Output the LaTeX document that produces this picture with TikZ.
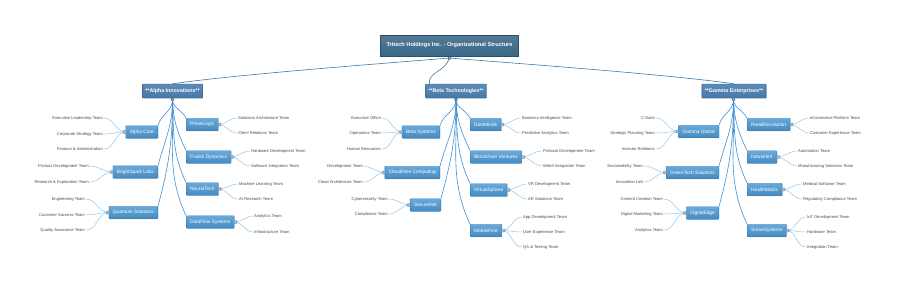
\documentclass[tikz,border=0pt]{standalone}
\usepackage{fontspec}
\setmainfont{Liberation Sans}
\usetikzlibrary{shadows}
\definecolor{Harbor}{HTML}{3F6C8D}
\definecolor{HarborDark}{HTML}{2B506B}
\definecolor{Slate}{HTML}{4A7FB0}
\definecolor{SlateDark}{HTML}{2E5B85}
\definecolor{Sky}{HTML}{4D9AD5}
\definecolor{SkyDark}{HTML}{2D78B5}
\definecolor{Trunk}{HTML}{3E78A8}
\definecolor{Wire}{HTML}{3B90D9}
\definecolor{Twig}{HTML}{92C8EE}
\definecolor{Ink}{HTML}{4A4A4A}

\begin{document}
\begin{tikzpicture}[x=1pt,y=-1pt, every node/.style={align=center},
root/.style={draw=HarborDark,top color=Harbor!90!white,bottom color=Harbor!95!black,text=white,font=\fontsize{5.6}{6.5}\selectfont\bfseries,minimum height=21pt,inner xsep=6pt,drop shadow={opacity=0.25,shadow xshift=0.6pt,shadow yshift=-0.6pt}},
corp/.style={draw=SlateDark,top color=Slate!90!white,bottom color=Slate!95!black,text=white,font=\fontsize{5.3}{6}\selectfont\bfseries,minimum height=14pt,inner xsep=3pt,rounded corners=0.6pt,drop shadow={opacity=0.25,shadow xshift=0.6pt,shadow yshift=-0.6pt}},
unit/.style={draw=SkyDark,top color=Sky!85!white,bottom color=Sky!90!black,text=white,font=\fontsize{4.8}{6}\selectfont,minimum height=12.5pt,inner xsep=4pt,rounded corners=0.6pt,drop shadow={opacity=0.2,shadow xshift=0.5pt,shadow yshift=-0.5pt}},
team/.style={text=Ink,font=\fontsize{4.1}{5}\selectfont,inner sep=1pt},
trunk/.style={draw=Trunk,line width=0.6pt},
branch/.style={draw=Wire,line width=0.6pt},
leaf/.style={draw=Twig,line width=0.5pt},
knob/.style={circle,draw=HarborDark,fill=Sky!40!white,minimum size=3.2pt,inner sep=0pt,line width=0.5pt},
stub/.style={draw=SlateDark!70,fill=Sky!30!gray!60,minimum size=3pt,inner sep=0pt,rounded corners=0.4pt,line width=0.4pt}]
\fill[white] (0,0) rectangle (900,287);
\useasboundingbox (0,0) rectangle (900,287);

% top of the chart
\node[root] (top) at (449.5,45.5) {Tritech Holdings Inc. - Organizational Structure};
\node[corp] (alpha) at (172.5,91) {**Alpha Innovations**};
\node[corp] (beta) at (456,91) {**Beta Technologies**};
\node[corp] (gamma) at (734,91) {**Gamma Enterprises**};
\coordinate (topk) at (449.5,58);
\coordinate (alphak) at (172.5,99.5);
\coordinate (betak) at (456,99.5);
\coordinate (gammak) at (733.5,99.5);
\draw[trunk] (topk) .. controls (390,63) and (240,74) .. (alpha.north);
\draw[trunk] (topk) .. controls (445,72) and (428,72) .. ([xshift=4pt]beta.north west);
\draw[trunk] (topk) .. controls (510,63) and (665,74) .. (gamma.north);

% Alpha Innovations
\node[unit,anchor=east] (acore) at (158,132) {Alpha Core};
\node[unit,anchor=east] (bspark) at (158,172) {BrightSpark Labs};
\node[unit,anchor=east] (quantum) at (158,212.5) {Quantum Solutions};
\node[unit,anchor=west] (prime) at (186,124.5) {PrimeLogic};
\node[unit,anchor=west] (fusion) at (186,157) {Fusion Dynamics};
\node[unit,anchor=west] (neural) at (186,189) {NeuralTech};
\node[unit,anchor=west] (dflow) at (186,222) {DataFlow Systems};
\foreach \u in {acore,bspark,quantum} \draw[branch] (alphak) to[out=-90,in=75] (\u.north east);
\foreach \u in {prime,fusion,neural,dflow} \draw[branch] (alphak) to[out=-88,in=115] (\u.north west);
\foreach \n/\y/\t in {1/118/Executive Leadership Team,2/134/Corporate Strategy Team,3/149/Finance \& Administration}{
  \node[team,anchor=east] (acore-\n) at (104,\y) {\t};
  \draw[leaf] (acore.west) to[out=180,in=0] (acore-\n.east);}
\foreach \n/\y/\t in {1/166/Product Development Team,2/182/Research \& Exploration Team}{
  \node[team,anchor=east] (bspark-\n) at (90,\y) {\t};
  \draw[leaf] (bspark.west) to[out=180,in=0] (bspark-\n.east);}
\foreach \n/\y/\t in {1/199/Engineering Team,2/215/Customer Success Team,3/230/Quality Assurance Team}{
  \node[team,anchor=east] (quantum-\n) at (86,\y) {\t};
  \draw[leaf] (quantum.west) to[out=180,in=0] (quantum-\n.east);}
\foreach \n/\y/\t in {1/118/Solutions Architecture Team,2/133/Client Relations Team}{
  \node[team,anchor=west] (prime-\n) at (237,\y) {\t};
  \draw[leaf] (prime.east) to[out=0,in=180] (prime-\n.west);}
\foreach \n/\y/\t in {1/151/Hardware Development Team,2/166/Software Integration Team}{
  \node[team,anchor=west] (fusion-\n) at (250,\y) {\t};
  \draw[leaf] (fusion.east) to[out=0,in=180] (fusion-\n.west);}
\foreach \n/\y/\t in {1/184/Machine Learning Team,2/199/AI Research Team}{
  \node[team,anchor=west] (neural-\n) at (238,\y) {\t};
  \draw[leaf] (neural.east) to[out=0,in=180] (neural-\n.west);}
\foreach \n/\y/\t in {1/216/Analytics Team,2/232/Infrastructure Team}{
  \node[team,anchor=west] (dflow-\n) at (253,\y) {\t};
  \draw[leaf] (dflow.east) to[out=0,in=180] (dflow-\n.west);}

% Beta Technologies
\node[unit,anchor=east] (bsys) at (440,132) {Beta Systems};
\node[unit,anchor=east] (cloud) at (440,172.5) {CloudNine Computing};
\node[unit,anchor=east] (secure) at (441,205) {SecureNet};
\node[unit,anchor=west] (dminds) at (470,124.5) {DataMinds};
\node[unit,anchor=west] (chain) at (470,157) {Blockchain Ventures};
\node[unit,anchor=west] (vsphere) at (470,190) {VirtualSphere};
\node[unit,anchor=west] (mobile) at (470,230.5) {MobileFirst};
\foreach \u in {bsys,cloud,secure} \draw[branch] (betak) to[out=-90,in=75] (\u.north east);
\foreach \u in {dminds,chain,vsphere,mobile} \draw[branch] (betak) to[out=-88,in=115] (\u.north west);
\foreach \n/\y/\t in {1/118/Executive Office,2/133/Operations Team,3/149/Human Resources}{
  \node[team,anchor=east] (bsys-\n) at (382,\y) {\t};
  \draw[leaf] (bsys.west) to[out=180,in=0] (bsys-\n.east);}
\foreach \n/\y/\t in {1/166.5/Development Team,2/182/Cloud Architecture Team}{
  \node[team,anchor=east] (cloud-\n) at (364,\y) {\t};
  \draw[leaf] (cloud.west) to[out=180,in=0] (cloud-\n.east);}
\foreach \n/\y/\t in {1/199/Cybersecurity Team,2/214/Compliance Team}{
  \node[team,anchor=east] (secure-\n) at (389,\y) {\t};
  \draw[leaf] (secure.west) to[out=180,in=0] (secure-\n.east);}
\foreach \n/\y/\t in {1/118/Business Intelligence Team,2/133/Predictive Analytics Team}{
  \node[team,anchor=west] (dminds-\n) at (521,\y) {\t};
  \draw[leaf] (dminds.east) to[out=0,in=180] (dminds-\n.west);}
\foreach \n/\y/\t in {1/151/Protocol Development Team,2/166/Web3 Integration Team}{
  \node[team,anchor=west] (chain-\n) at (542,\y) {\t};
  \draw[leaf] (chain.east) to[out=0,in=180] (chain-\n.west);}
\foreach \n/\y/\t in {1/184/VR Development Team,2/199/AR Solutions Team}{
  \node[team,anchor=west] (vsphere-\n) at (527,\y) {\t};
  \draw[leaf] (vsphere.east) to[out=0,in=180] (vsphere-\n.west);}
\foreach \n/\y/\t in {1/217/App Development Team,2/232/User Experience Team,3/247/QA \& Testing Team}{
  \node[team,anchor=west] (mobile-\n) at (522,\y) {\t};
  \draw[leaf] (mobile.east) to[out=0,in=180] (mobile-\n.west);}

% Gamma Enterprises
\node[unit,anchor=east] (gglobal) at (719,131.5) {Gamma Global};
\node[unit,anchor=east] (green) at (719,172.5) {GreenTech Solutions};
\node[unit,anchor=east] (dedge) at (719,213) {DigitalEdge};
\node[unit,anchor=west] (retail) at (747,124.5) {RetailRevolution};
\node[unit,anchor=west] (indx) at (747,157) {IndustrieX};
\node[unit,anchor=west] (health) at (747,189.5) {HealthMatrix};
\node[unit,anchor=west] (smart) at (747,230.5) {SmartSystems};
\foreach \u in {gglobal,green,dedge} \draw[branch] (gammak) to[out=-90,in=75] (\u.north east);
\foreach \u in {retail,indx,health,smart} \draw[branch] (gammak) to[out=-88,in=115] (\u.north west);
\foreach \n/\y/\t in {1/118/C-Suite,2/133/Strategic Planning Team,3/149/Investor Relations}{
  \node[team,anchor=east] (gglobal-\n) at (656,\y) {\t};
  \draw[leaf] (gglobal.west) to[out=180,in=0] (gglobal-\n.east);}
\foreach \n/\y/\t in {1/166/Sustainability Team,2/182/Innovation Lab}{
  \node[team,anchor=east] (green-\n) at (644,\y) {\t};
  \draw[leaf] (green.west) to[out=180,in=0] (green-\n.east);}
\foreach \n/\y/\t in {1/199/Content Creation Team,2/214/Digital Marketing Team,3/230/Analytics Team}{
  \node[team,anchor=east] (dedge-\n) at (664,\y) {\t};
  \draw[leaf] (dedge.west) to[out=180,in=0] (dedge-\n.east);}
\foreach \n/\y/\t in {1/118/eCommerce Platform Team,2/133/Customer Experience Team}{
  \node[team,anchor=west] (retail-\n) at (809,\y) {\t};
  \draw[leaf] (retail.east) to[out=0,in=180] (retail-\n.west);}
\foreach \n/\y/\t in {1/151/Automation Team,2/166/Manufacturing Solutions Team}{
  \node[team,anchor=west] (indx-\n) at (797,\y) {\t};
  \draw[leaf] (indx.east) to[out=0,in=180] (indx-\n.west);}
\foreach \n/\y/\t in {1/184/Medical Software Team,2/199/Regulatory Compliance Team}{
  \node[team,anchor=west] (health-\n) at (802,\y) {\t};
  \draw[leaf] (health.east) to[out=0,in=180] (health-\n.west);}
\foreach \n/\y/\t in {1/217/IoT Development Team,2/232/Hardware Team,3/247/Integration Team}{
  \node[team,anchor=west] (smart-\n) at (806,\y) {\t};
  \draw[leaf] (smart.east) to[out=0,in=180] (smart-\n.west);}

% knobs
\foreach \k in {topk,alphak,betak,gammak} \node[knob] (\k-o) at (\k) {};
\foreach \u in {acore,bspark,quantum,bsys,cloud,secure,gglobal,green,dedge} \node[stub] (\u-s) at ([xshift=-1pt]\u.west) {};
\foreach \u in {prime,fusion,neural,dflow,dminds,chain,vsphere,mobile,retail,indx,health,smart} \node[stub] (\u-s) at ([xshift=1pt]\u.east) {};
\end{tikzpicture}
\end{document}
